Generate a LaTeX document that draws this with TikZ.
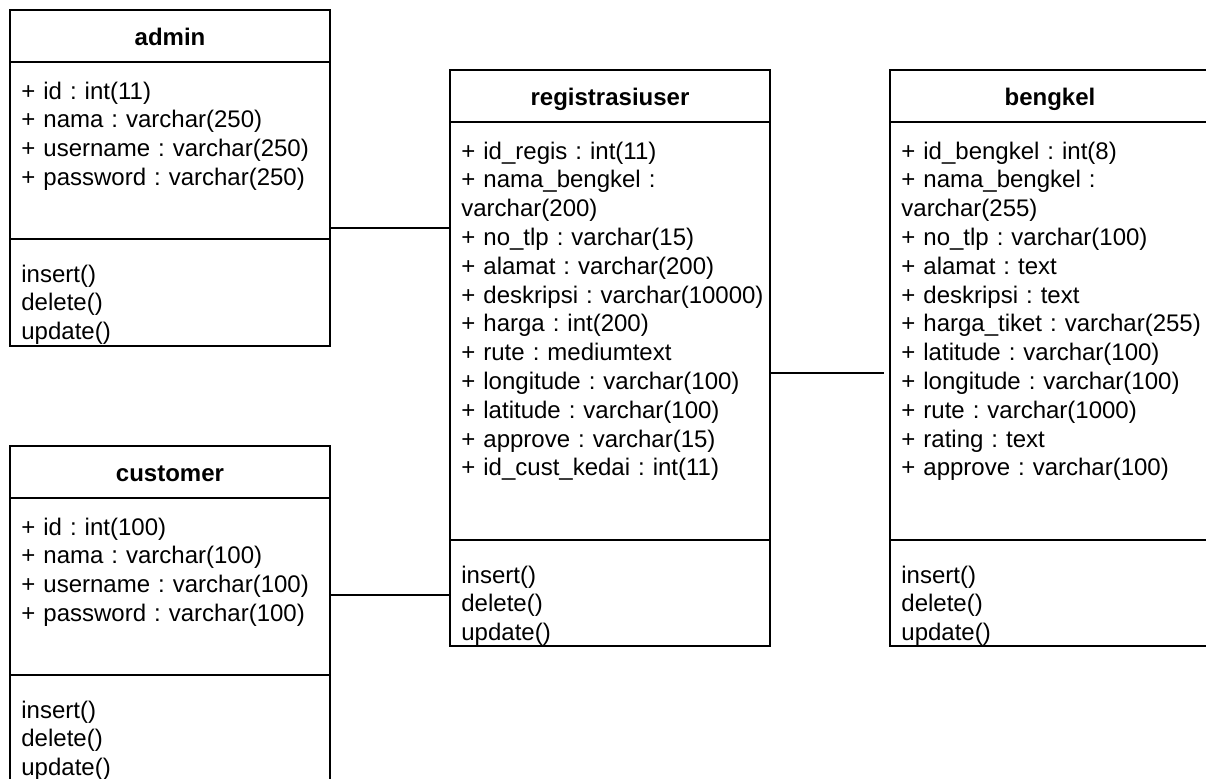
\documentclass[tikz,border=0pt]{standalone}
\usepackage{fontspec}
\setmainfont{Liberation Sans}
\usetikzlibrary{positioning}
\tikzset{>=latex,
  classbox/.style={draw, line width=1pt, anchor=north west, minimum width=160pt, inner sep=0pt},
  classtitle/.style={draw, line width=1pt, minimum width=160pt, minimum height=26pt, inner sep=0pt, font=\fontsize{12pt}{14.4pt}\selectfont\bfseries, text height=9pt, text depth=0pt},
  members/.style={anchor=base west, inner sep=0pt, text width=170pt, align=left, font=\fontsize{12pt}{14.4pt}\selectfont\frenchspacing},
  link/.style={draw, line width=1pt}
}

\begin{document}
\begin{tikzpicture}[x=0.5pt, y=-0.5pt]
      \useasboundingbox (0,0) rectangle (1206,778);
      \clip (0,0) rectangle (1206,778);
      % admin
      \node[classbox, minimum height=168pt] (admin) at (9,9) {};
      \node[classtitle, below=0pt of admin.north] (admin-t) {admin};
      \node[members] (admin-a) at ([shift={(12,36)}]admin-t.south west) {+ id : int(11)\\+ nama : varchar(250)\\+ username : varchar(250)\\+ password : varchar(250)};
      \draw[line width=1pt] ([yshift=54pt]admin.south west) -- ([yshift=54pt]admin.south east);
      \node[members] (admin-m) at ([shift={(12,-65)}]admin.south west) {insert()\\delete()\\update()};
      % customer
      \node[classbox, minimum height=168pt] (customer) at (9,445) {};
      \node[classtitle, below=0pt of customer.north] (customer-t) {customer};
      \node[members] (customer-a) at ([shift={(12,36)}]customer-t.south west) {+ id : int(100)\\+ nama : varchar(100)\\+ username : varchar(100)\\+ password : varchar(100)};
      \draw[line width=1pt] ([yshift=54pt]customer.south west) -- ([yshift=54pt]customer.south east);
      \node[members] (customer-m) at ([shift={(12,-65)}]customer.south west) {insert()\\delete()\\update()};
      % registrasiuser
      \node[classbox, minimum height=288pt] (regis) at (449,69) {};
      \node[classtitle, below=0pt of regis.north] (regis-t) {registrasiuser};
      \node[members] (regis-a) at ([shift={(12,36)}]regis-t.south west) {+ id\_regis : int(11)\\+ nama\_bengkel :\\varchar(200)\\+ no\_tlp : varchar(15)\\+ alamat : varchar(200)\\+ deskripsi : varchar(10000)\\+ harga : int(200)\\+ rute : mediumtext\\+ longitude : varchar(100)\\+ latitude : varchar(100)\\+ approve : varchar(15)\\+ id\_cust\_kedai : int(11)};
      \draw[line width=1pt] ([yshift=53.5pt]regis.south west) -- ([yshift=53.5pt]regis.south east);
      \node[members] (regis-m) at ([shift={(12,-64)}]regis.south west) {insert()\\delete()\\update()};
      % bengkel
      \node[classbox, minimum height=288pt] (bengkel) at (889,69) {};
      \node[classtitle, below=0pt of bengkel.north] (bengkel-t) {bengkel};
      \node[members] (bengkel-a) at ([shift={(12,36)}]bengkel-t.south west) {+ id\_bengkel : int(8)\\+ nama\_bengkel :\\varchar(255)\\+ no\_tlp : varchar(100)\\+ alamat : text\\+ deskripsi : text\\+ harga\_tiket : varchar(255)\\+ latitude : varchar(100)\\+ longitude : varchar(100)\\+ rute : varchar(1000)\\+ rating : text\\+ approve : varchar(100)};
      \draw[line width=1pt] ([yshift=53.5pt]bengkel.south west) -- ([yshift=53.5pt]bengkel.south east);
      \node[members] (bengkel-m) at ([shift={(12,-64)}]bengkel.south west) {insert()\\delete()\\update()};
      % links
      \coordinate (j1) at (0,228);
      \coordinate (j2) at (0,595);
      \coordinate (j3) at (0,373);
      \draw[link] (admin.east |- j1) -- (regis.west |- j1);
      \draw[link] (customer.east |- j2) -- (regis.west |- j2);
      \draw[link] (regis.east |- j3) -- ([xshift=-2.5pt]bengkel.west |- j3);
\end{tikzpicture}
\end{document}
